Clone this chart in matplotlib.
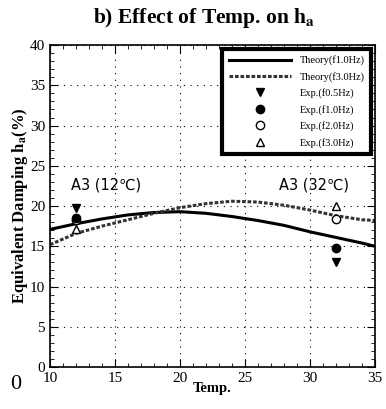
import numpy as np
import matplotlib.pyplot as plt

plt.rcParams['font.family'] = ['Liberation Serif', 'DejaVu Serif']
plt.rcParams['mathtext.fontset'] = 'stix'

# theory curves
temp = [10, 12, 14, 16, 18, 20, 22, 24, 26, 28, 30, 32, 34, 35]
h_f10 = [17.1, 17.8, 18.4, 18.9, 19.2, 19.3, 19.1, 18.7, 18.2, 17.6, 16.8, 16.1, 15.4, 15.0]
h_f30 = [15.2, 16.6, 17.5, 18.3, 19.1, 19.8, 20.3, 20.6, 20.5, 20.1, 19.5, 18.8, 18.3, 18.2]

# experiments at 12 and 32 degC
exp_t = [12, 32]
exp_f05 = [19.8, 13.0]
exp_f10 = [18.5, 14.8]
exp_f20 = [18.3, 18.4]
exp_f30 = [17.1, 20.0]

fig = plt.figure(figsize=(3.86, 4.09), dpi=100)
ax = fig.add_axes([0.1295, 0.1027, 0.842, 0.787])

ax.plot(temp, h_f10, color='black', lw=2.2, label='Theory(f1.0Hz)')
ax.plot(temp, h_f30, color='#333333', lw=2.2, ls=(0, (1.2, 0.6)), label='Theory(f3.0Hz)')
ax.plot(exp_t, exp_f20, 'o', mfc='white', mec='black', ms=6, label='Exp.(f2.0Hz)')
ax.plot(exp_t, exp_f30, '^', mfc='white', mec='black', ms=6, label='Exp.(f3.0Hz)')
ax.plot(exp_t, exp_f05, 'v', color='black', ms=6, label='Exp.(f0.5Hz)')
ax.plot(exp_t, exp_f10, 'o', color='black', ms=6, label='Exp.(f1.0Hz)')

h, l = ax.get_legend_handles_labels()
order = [0, 1, 4, 5, 2, 3]
leg = ax.legend([h[i] for i in order], [l[i] for i in order], loc='upper right',
                fontsize=7.5, frameon=True, fancybox=False, edgecolor='black',
                handlelength=6.0, borderaxespad=0.4, labelspacing=0.62,
                borderpad=0.6, markerscale=1.0)
leg.get_frame().set_linewidth(3)
leg.get_frame().set_alpha(1)

ax.text(11.6, 22.0, 'A3 (12℃)', fontsize=10.5, family=['DejaVu Sans'])
ax.text(27.6, 22.0, 'A3 (32℃)', fontsize=10.5, family=['DejaVu Sans'])

ax.set_xlim(10, 35)
ax.set_ylim(0, 40)
ax.set_xticks([10, 15, 20, 25, 30, 35])
ax.set_yticks([0, 5, 10, 15, 20, 25, 30, 35, 40])
ax.set_xticks(np.arange(10, 36, 1), minor=True)
ax.set_yticks(np.arange(0, 41, 1), minor=True)
ax.tick_params(which='both', direction='in', top=True, right=True, labelsize=11)
ax.tick_params(which='major', length=6)
ax.tick_params(which='minor', length=3)
ax.grid(True, which='major', color='black', lw=0.8, ls=(0, (1, 5)))
for s in ax.spines.values():
    s.set_linewidth(1.2)

ax.set_xlabel('Temp.', fontsize=10.5, fontweight='bold', labelpad=-2)
ax.set_ylabel('Equivalent Damping h$_\\mathbf{a}$(%)', fontsize=12, fontweight='bold', labelpad=0)
fig.suptitle('b) Effect of Temp. on h$_\\mathbf{a}$', fontsize=15.5, fontweight='bold', x=0.53, y=0.985)
fig.text(0.04, 0.06, '0', fontsize=16, ha='center', va='center')

fig.savefig('out.png', dpi=100)
